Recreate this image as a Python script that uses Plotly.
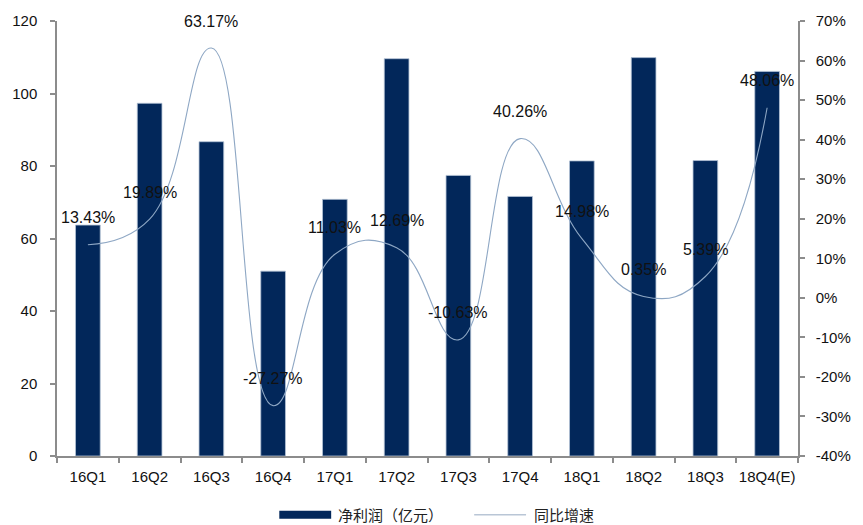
import plotly.graph_objects as go

# Quarterly net profit (100 million CNY) and year-on-year growth (%)
quarters = ["16Q1", "16Q2", "16Q3", "16Q4", "17Q1", "17Q2",
            "17Q3", "17Q4", "18Q1", "18Q2", "18Q3", "18Q4(E)"]
net_profit = [63.7, 97.3, 86.7, 51.0, 70.8, 109.6,
              77.4, 71.6, 81.4, 109.9, 81.5, 106.1]
yoy_growth = [13.43, 19.89, 63.17, -27.27, 11.03, 12.69,
              -10.63, 40.26, 14.98, 0.35, 5.39, 48.06]

left_ticks = [0, 20, 40, 60, 80, 100, 120]
right_ticks = list(range(-40, 71, 10))

bar_color = "#02275a"
line_color = "#8ea7c4"
axis_color = "#8c8c8c"
font_family = "Liberation Sans, Arial, sans-serif"
cjk_family = "Noto Sans CJK SC"

fig = go.Figure()

fig.add_trace(go.Bar(
    x=quarters, y=net_profit, name="净利润（亿元）",
    marker=dict(color=bar_color, line=dict(color="#b4c3d6", width=0.8)),
    width=0.4, yaxis="y",
))

fig.add_trace(go.Scatter(
    x=quarters, y=yoy_growth, name="同比增速",
    mode="lines", line=dict(color=line_color, width=1.1, shape="spline", smoothing=1.3),
    yaxis="y2",
))

# Percentage labels above each growth point
for q, v in zip(quarters, yoy_growth):
    fig.add_annotation(
        x=q, y=v, yref="y2", text=f"{v:.2f}%", showarrow=False,
        yshift=27, yanchor="middle",
        font=dict(family=font_family, size=16, color="#111111"),
    )

# Legend drawn below the plot area (paper coordinates)
legend_y = -0.135
fig.add_shape(type="rect", xref="paper", yref="paper",
              x0=0.300, x1=0.370, y0=legend_y - 0.009, y1=legend_y + 0.009,
              fillcolor=bar_color, line=dict(width=0))
fig.add_annotation(xref="paper", yref="paper", x=0.377, y=legend_y, xanchor="left",
                   yanchor="middle", showarrow=False, text="净利润（亿元）",
                   font=dict(family=cjk_family, size=15, color="#222222"))
fig.add_shape(type="line", xref="paper", yref="paper",
              x0=0.563, x1=0.633, y0=legend_y, y1=legend_y,
              line=dict(color="#b9c6d6", width=1.5))
fig.add_annotation(xref="paper", yref="paper", x=0.641, y=legend_y, xanchor="left",
                   yanchor="middle", showarrow=False, text="同比增速",
                   font=dict(family=cjk_family, size=15, color="#222222"))

fig.update_layout(
    width=863, height=525,
    margin=dict(l=55, r=62, t=19, b=69),
    plot_bgcolor="white", paper_bgcolor="white",
    showlegend=False, bargap=0.6,
    font=dict(family=font_family, size=15, color="#111111"),
    xaxis=dict(
        type="category", showline=True, linecolor=axis_color, linewidth=1.5,
        ticks="outside", tickson="boundaries", ticklen=5, tickcolor=axis_color,
        tickwidth=1.5, showgrid=False, ticklabelstandoff=6, tickangle=0,
        tickfont=dict(family=font_family, size=15, color="#111111"),
    ),
    yaxis=dict(
        range=[0, 120], tickvals=left_ticks, showline=True, linecolor=axis_color,
        linewidth=1.5, ticks="outside", ticklen=5, tickcolor=axis_color, tickwidth=1.5,
        showgrid=False, zeroline=False, ticklabelstandoff=10,
        tickfont=dict(family=font_family, size=15, color="#111111"),
    ),
    yaxis2=dict(
        range=[-40, 70], tickvals=right_ticks, ticktext=[f"{t}%" for t in right_ticks],
        overlaying="y", side="right", showline=True, linecolor=axis_color, linewidth=1.5,
        ticks="outside", ticklen=5, tickcolor=axis_color, tickwidth=1.5,
        showgrid=False, zeroline=False, ticklabelstandoff=8,
        tickfont=dict(family=font_family, size=15, color="#111111"),
    ),
)

fig.write_html("out.html")
